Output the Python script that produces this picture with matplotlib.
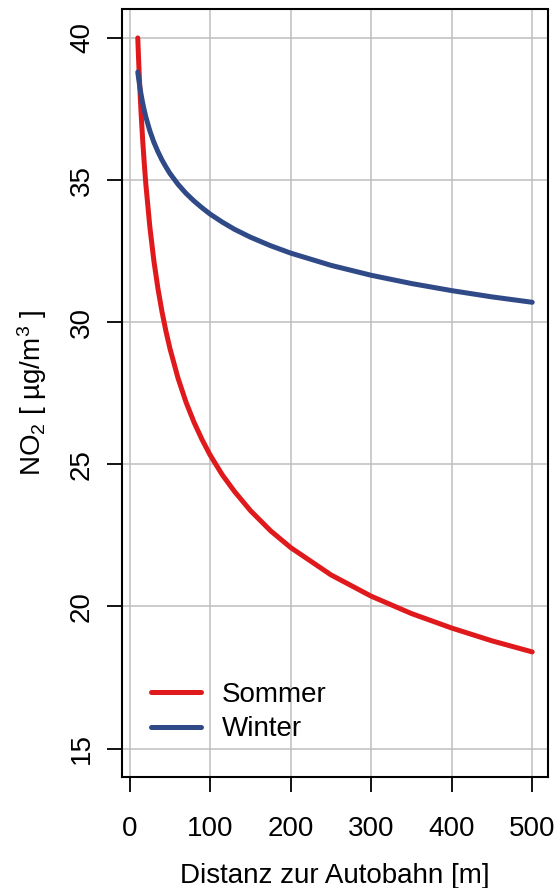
import matplotlib
matplotlib.use("Agg")
import matplotlib.pyplot as plt

plt.rcParams['font.family'] = ['Liberation Sans', 'DejaVu Sans']
plt.rcParams['mathtext.default'] = 'regular'

distanz = [10, 11, 12, 13, 14, 16, 18, 20, 25, 30, 35, 40, 45, 50, 60, 70, 80,
           90, 100, 115, 130, 150, 175, 200, 250, 300, 350, 400, 450, 500]
sommer = [40.00, 39.25, 38.58, 37.98, 37.42, 36.44, 35.61, 34.86, 33.35, 32.16,
          31.19, 30.38, 29.68, 29.07, 28.03, 27.18, 26.47, 25.86, 25.32, 24.63,
          24.05, 23.37, 22.66, 22.07, 21.11, 20.36, 19.75, 19.24, 18.79, 18.40]
winter = [38.80, 38.58, 38.38, 38.20, 38.03, 37.72, 37.46, 37.22, 36.73, 36.33,
          36.00, 35.71, 35.46, 35.23, 34.85, 34.53, 34.26, 34.02, 33.80, 33.52,
          33.27, 32.99, 32.69, 32.43, 32.00, 31.65, 31.36, 31.11, 30.89, 30.70]
xticks = [0, 100, 200, 300, 400, 500]
yticks = [15, 20, 25, 30, 35, 40]

RED = '#e01a1c'
BLUE = '#2f4a86'
FS = 20

fig = plt.figure(figsize=(5.58, 8.88), dpi=100)
ax = fig.add_axes([122 / 558, 1 - 777 / 888, 426 / 558, 767.5 / 888])

ax.set_xlim(-9.6, 519.6)
ax.set_ylim(14, 41)
ax.set_xticks(xticks)
ax.set_yticks(yticks)
ax.grid(True, color='#bebebe', linewidth=1.1)
ax.set_axisbelow(True)

ax.plot(distanz, sommer, color=RED, lw=3.6, solid_capstyle='round',
        solid_joinstyle='round', label='Sommer', zorder=3)
ax.plot(distanz, winter, color=BLUE, lw=3.6, solid_capstyle='round',
        solid_joinstyle='round', label='Winter', zorder=3)

for s in ax.spines.values():
    s.set_linewidth(1.5)
    s.set_color('black')

ax.tick_params(axis='both', direction='out', length=11, width=1.3,
               labelsize=FS, colors='black')
ax.tick_params(axis='x', pad=17)
ax.tick_params(axis='y', pad=8.5)
for lab in ax.get_yticklabels():
    lab.set_rotation(90)
    lab.set_va('center')
    lab.set_ha('right')

ax.set_xlabel('Distanz zur Autobahn [m]', fontsize=FS, labelpad=15.5)
ax.set_ylabel(r'NO$_2$ [ µg/m$^3$ ]', fontsize=FS, labelpad=14)

leg = ax.legend(loc='lower left', bbox_to_anchor=(0.068, 0.045), frameon=False,
                fontsize=FS, handlelength=1.8, handletextpad=0.75,
                labelspacing=0.3, borderpad=0, borderaxespad=0)
for h in leg.get_lines():
    h.set_solid_capstyle('round')

fig.savefig('out.png', dpi=100)
